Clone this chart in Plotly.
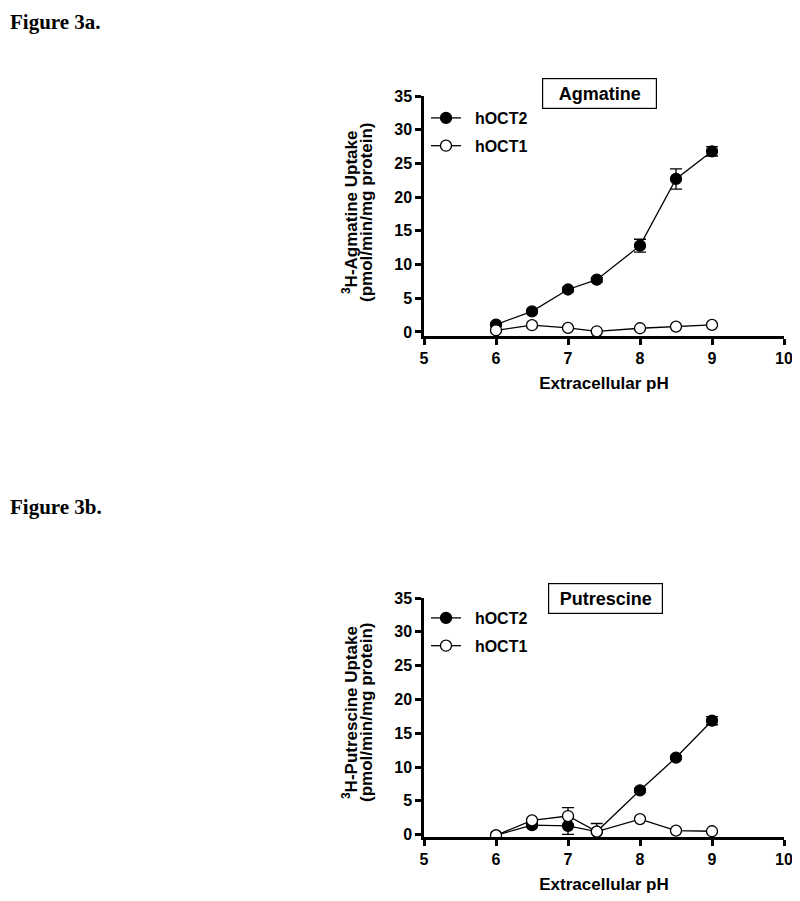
import plotly.graph_objects as go

# data
ph = [6.0, 6.5, 7.0, 7.4, 8.0, 8.5, 9.0]

agm_hoct2 = [1.1, 3.05, 6.3, 7.75, 12.8, 22.7, 26.8]
agm_hoct2_err = [0.2, 0.2, 0.3, 0.3, 0.95, 1.5, 0.7]
agm_hoct1 = [0.25, 1.0, 0.6, 0.1, 0.55, 0.8, 1.05]
agm_hoct1_err = [0.1, 0.1, 0.1, 0.1, 0.1, 0.1, 0.1]

put_hoct2 = [-0.1, 1.4, 1.3, 0.45, 6.55, 11.4, 16.85]
put_hoct2_err = [0.1, 0.2, 1.25, 1.2, 0.3, 0.3, 0.6]
put_hoct1 = [-0.1, 2.1, 2.75, 0.45, 2.3, 0.6, 0.5]
put_hoct1_err = [0.1, 0.2, 1.25, 0.2, 0.2, 0.1, 0.1]

x_ticks = [5, 6, 7, 8, 9, 10]
y_ticks = [0, 5, 10, 15, 20, 25, 30, 35]

FONT = "Liberation Sans"
# the page body adds an 8px margin, so the figure is 8px smaller and positions are shifted
OFF = 8
W, H = 800 - OFF, 901 - OFF


def px(x):
    return (x - OFF) / W


def py(y):
    return 1 - (y - OFF) / H


fig = go.Figure()


def add_series(x, y, err, name, filled, xa, ya, legend):
    fig.add_trace(go.Scatter(
        x=x, y=y, name="&nbsp;&nbsp;<b>" + name + "</b>", mode="lines+markers",
        error_y=dict(type="data", array=err, color="black", thickness=1.3, width=6),
        line=dict(color="black", width=1.3),
        marker=dict(symbol="circle", size=11,
                    color="black" if filled else "white",
                    line=dict(color="black", width=1.3)),
        xaxis=xa, yaxis=ya, legend=legend, legendgroup=name + xa,
    ))


add_series(ph, agm_hoct2, agm_hoct2_err, "hOCT2", True, "x", "y", "legend")
add_series(ph, agm_hoct1, agm_hoct1_err, "hOCT1", False, "x", "y", "legend")
add_series(ph, put_hoct2, put_hoct2_err, "hOCT2", True, "x2", "y2", "legend2")
add_series(ph, put_hoct1, put_hoct1_err, "hOCT1", False, "x2", "y2", "legend2")

axis_common = dict(
    showline=True, linecolor="black", linewidth=2.5,
    ticks="outside", tickcolor="black", tickwidth=2.5, ticklen=6,
    showgrid=False, zeroline=False, automargin=False,
    tickfont=dict(family=FONT, size=16, color="black", weight="bold"),
)

xdom = [px(424), px(784)]
xtitle = dict(text="<b>Extracellular pH</b>", font=dict(size=17, family=FONT), standoff=12)

legend_common = dict(xanchor="left", yanchor="top", bgcolor="rgba(0,0,0,0)",
                     font=dict(size=16, family=FONT, color="black"),
                     tracegroupgap=4, itemwidth=30)

fig.update_layout(
    template="none",
    width=W, height=H,
    margin=dict(l=0, r=0, t=0, b=0),
    paper_bgcolor="white", plot_bgcolor="white",
    font=dict(family=FONT, color="black"),
    xaxis=dict(domain=xdom, range=[5, 10], tickvals=x_ticks, anchor="y",
               title=xtitle, **axis_common),
    yaxis=dict(domain=[py(336), py(96)], range=[-0.6, 35], tickvals=y_ticks,
               anchor="x", **axis_common),
    xaxis2=dict(domain=xdom, range=[5, 10], tickvals=x_ticks, anchor="y2",
                title=xtitle, **axis_common),
    yaxis2=dict(domain=[py(837), py(598)], range=[-0.35, 35], tickvals=y_ticks,
                anchor="x2", **axis_common),
    legend=dict(x=px(426), y=py(101), **legend_common),
    legend2=dict(x=px(426), y=py(601), **legend_common),
    showlegend=True,
)

# y-axis titles: two separate lines so the spacing can be kept tight
ytitles = [
    ("<b><sup>3</sup>H-Agmatine Uptake</b>", "<b>(pmol/min/mg protein)</b>", 213),
    ("<b><sup>3</sup>H-Putrescine Uptake</b>", "<b>(pmol/min/mg protein)</b>", 713),
]
for line1, line2, yc in ytitles:
    for txt, xc in ((line1, 350), (line2, 366)):
        fig.add_annotation(text=txt, xref="paper", yref="paper",
                           x=px(xc), y=py(yc), xanchor="center", yanchor="middle",
                           textangle=-90, showarrow=False,
                           font=dict(size=17, family=FONT, color="black"))

# boxed panel labels
for txt, xc, yc in (("<b>Agmatine</b>", 599, 94), ("<b>Putrescine</b>", 605, 598)):
    fig.add_annotation(text=txt, xref="paper", yref="paper",
                       x=px(xc), y=py(yc), xanchor="center", yanchor="middle",
                       showarrow=False, width=113, height=29, borderpad=0,
                       font=dict(size=18, family=FONT, color="black"),
                       bordercolor="black", borderwidth=1.2, bgcolor="white")

fig.add_annotation(text="<b>Figure 3a.</b>", xref="paper", yref="paper",
                   x=0, y=1, xanchor="left", yanchor="top", showarrow=False,
                   font=dict(size=21, family="Liberation Serif", color="black"))
fig.add_annotation(text="<b>Figure 3b.</b>", xref="paper", yref="paper",
                   x=0, y=py(507), xanchor="left", yanchor="middle", showarrow=False,
                   font=dict(size=21, family="Liberation Serif", color="black"))

fig.write_html("out.html")
